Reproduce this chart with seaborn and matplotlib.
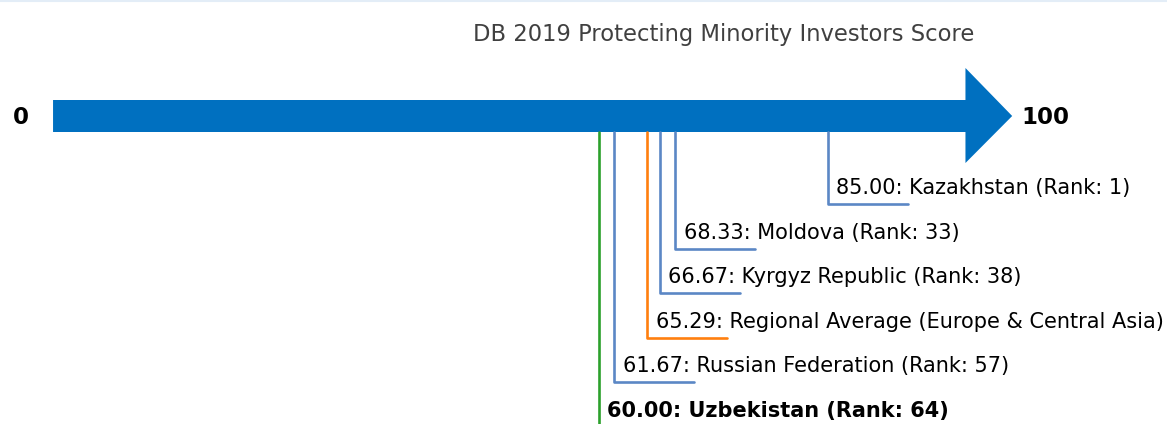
import matplotlib
matplotlib.use("Agg")
import matplotlib.pyplot as plt
import seaborn as sns
from matplotlib.patches import Polygon

# data
countries = ["Uzbekistan", "Russian Federation", "Regional Average (Europe & Central Asia)",
             "Kyrgyz Republic", "Moldova", "Kazakhstan"]
scores = [60.00, 61.67, 65.29, 66.67, 68.33, 85.00]
ranks = [64, 57, None, 38, 33, 1]
title = "DB 2019 Protecting Minority Investors Score"

sns.set_theme(style="white")
plt.rcParams['font.family'] = ['DejaVu Sans']

fig = plt.figure(figsize=(11.67, 4.24), dpi=100)
ax = fig.add_axes([0, 0, 1, 1])
ax.set_xlim(-5.39, 122.0)
ax.set_ylim(424, 0)
ax.axis("off")

# arrow: body from 0 to 100, head past 100
arrow_blue = "#0070c0"
ax.add_patch(Polygon([(0.4, 100), (100, 100), (100, 68), (105.1, 116),
                      (100, 163), (100, 132), (0.4, 132)],
                     closed=True, facecolor=arrow_blue, edgecolor="none"))
ax.text(-3.15, 118, "0", fontsize=16.5, fontweight="bold", ha="center", va="center",
        color="black")
ax.text(106.1, 118, "100", fontsize=16.5, fontweight="bold", ha="left", va="center",
        color="black")

ax.text(73.65, 34, title, fontsize=16.3, color="#404040", ha="center", va="center")

# connectors + labels
seg_len = 8.7
for i, (c, s, r) in enumerate(zip(countries, scores, ranks)):
    line_y = 427 - 44.6 * i
    if c == "Uzbekistan":
        col = "#2ca02c"
        weight = "bold"
    elif r is None:
        col = "#ff7f0e"
        weight = "normal"
    else:
        col = "#5b87c5"
        weight = "normal"
    sns.lineplot(x=[s, s, s + seg_len], y=[132, line_y, line_y], sort=False,
                 estimator=None, color=col, linewidth=1.9, ax=ax)
    if r is None:
        label = f"{s:.2f}: {c}"
    else:
        label = f"{s:.2f}: {c} (Rank: {r})"
    ax.text(s + 0.9, line_y - 16, label, fontsize=15, fontweight=weight,
            ha="left", va="center", color="black")

ax.axhline(0.8, color="#e3edf7", linewidth=1.5)

fig.savefig("out.png", dpi=100)
